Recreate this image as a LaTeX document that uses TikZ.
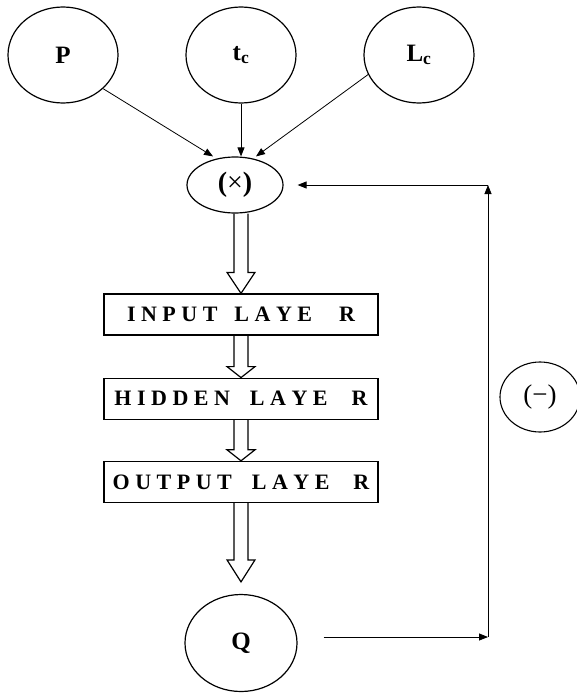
\documentclass[tikz,border=0pt]{standalone}
\usepackage{fontspec}
\setmainfont{Liberation Serif}
\usetikzlibrary{arrows.meta,positioning}
\usetikzlibrary{shapes.geometric}
\usetikzlibrary{calc}

% hollow block arrow: start, tip, head length
\newcommand{\hollowarrow}[3]{%
	\draw[hollowline] ($(#1)+(-7,0)$) -- ($(#2)+(-7,-#3)$) -- ($(#2)+(-14,-#3)$) -- (#2)
		-- ($(#2)+(14,-#3)$) -- ($(#2)+(7,-#3)$) -- ($(#1)+(7,0)$);}

\begin{document}
\begin{tikzpicture}[
	    x=1pt, y=-1pt,
	    invar/.style={ellipse, draw, line width=1.2pt, inner sep=0pt, minimum width=110pt, minimum height=96pt, font=\fontsize{25}{30}\selectfont\bfseries},
	    opnode/.style={ellipse, draw, line width=1.2pt, inner sep=0pt, minimum width=96pt, minimum height=56pt, font=\fontsize{28}{32}\selectfont\bfseries},
	    signnode/.style={ellipse, draw, line width=1.1pt, inner sep=0pt, minimum width=80pt, minimum height=70pt, font=\fontsize{27}{30}\selectfont},
	    layerbox/.style={rectangle, draw, line width=1.2pt, minimum width=274pt, minimum height=41pt, font=\fontsize{22}{26}\selectfont\bfseries},
	    normalline/.style={-{Triangle[length=9pt, width=7pt]}, line width=0.8pt},
	    hollowline/.style={line width=1.2pt, line join=miter},
	]
		\useasboundingbox (0,0) rectangle (577,693);

		\node[invar] (p) at (63,55) {P};
		\node[invar] (tc) at (241,55) {t\textsubscript{c}};
		\node[invar] (lc) at (419,55) {L\textsubscript{c}};
		\node[opnode] (mult) at (235,185) {(\textmd{×})};

		\node[layerbox] (input) at (241,314.5) {I N P U T\hspace{17pt}L A Y E\hspace{27pt}R};
		\node[layerbox, below=42pt of input] (hidden) {H I D D E N\hspace{20pt}L A Y E\hspace{24pt}R};
		\node[layerbox, below=41pt of hidden] (output) {O U T P U T\hspace{20pt}L A Y E\hspace{24pt}R};

		\node[invar, minimum width=112pt, minimum height=97pt] (q) at (241,643) {Q};
		\node[signnode] (minus) at (540,397) {(−)};

		\draw [normalline] (p.-40) -- ($(mult.north)+(-22,0)$);
		\draw [normalline] (tc.south) -- (tc.south |- mult.north);
		\draw [normalline] (lc.-159) -- ($(mult.north)+(21,0)$);

		\coordinate (qtop) at ($(q.north)+(0,-12)$);
		\hollowarrow{input.north |- mult.south}{input.north}{21}
		\hollowarrow{input.south}{hidden.north}{11}
		\hollowarrow{hidden.south}{output.north}{11}
		\hollowarrow{output.south}{qtop}{22}

		\coordinate (fbright) at (488,637);
		\coordinate (fbtop) at (488,185);
		\draw [normalline] ($(q.east)+(26,-6)$) -- (fbright);
		\draw [normalline] (fbright) -- (fbtop);
		\draw [normalline] (fbtop) -- ($(mult.east)+(14,0)$);
	\end{tikzpicture}
\end{document}
